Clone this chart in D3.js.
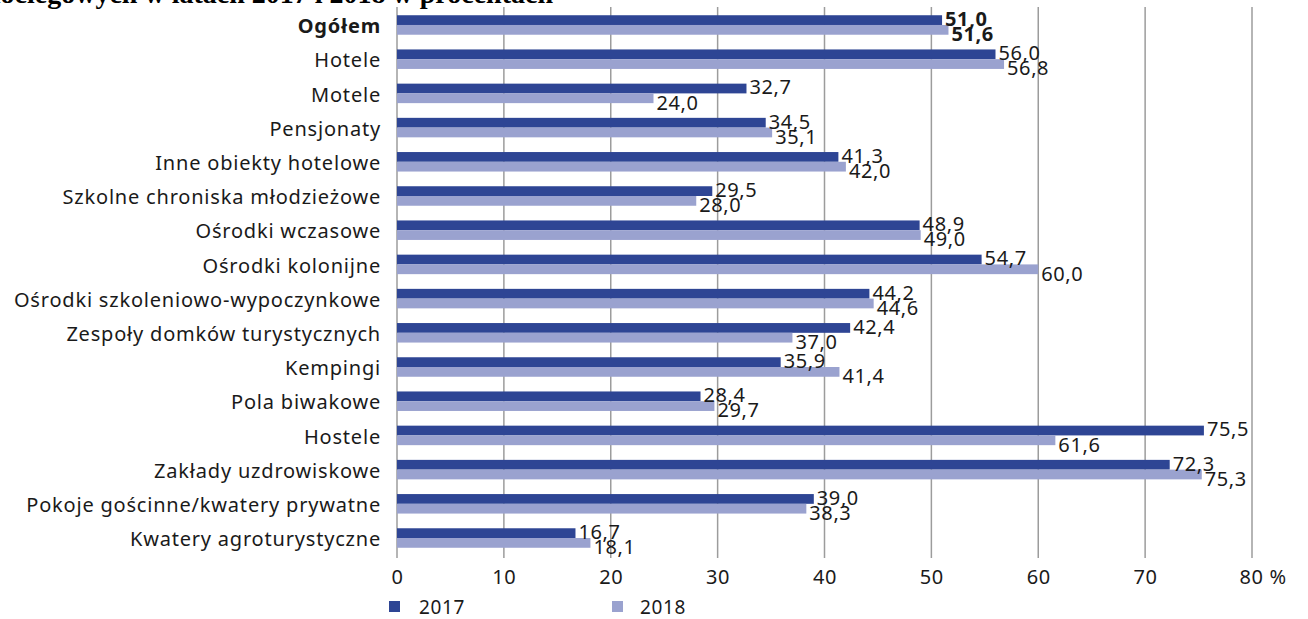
<!DOCTYPE html>
<html>
<head>
<meta charset="utf-8">
<script src="https://cdn.jsdelivr.net/npm/d3@7"></script>
<style>
  html, body { margin: 0; padding: 0; background: #fff; }
  svg { display: block; }
</style>
</head>
<body>
<svg id="chart" width="1308" height="619"></svg>
<script>
// Occupancy of bed places by type of accommodation, 2017 vs 2018 (%)
const categories = [
  "Ogółem", "Hotele", "Motele", "Pensjonaty", "Inne obiekty hotelowe",
  "Szkolne chroniska młodzieżowe", "Ośrodki wczasowe", "Ośrodki kolonijne",
  "Ośrodki szkoleniowo-wypoczynkowe", "Zespoły domków turystycznych",
  "Kempingi", "Pola biwakowe", "Hostele", "Zakłady uzdrowiskowe",
  "Pokoje gościnne/kwatery prywatne", "Kwatery agroturystyczne"
];
const values2017 = [51.0, 56.0, 32.7, 34.5, 41.3, 29.5, 48.9, 54.7, 44.2, 42.4, 35.9, 28.4, 75.5, 72.3, 39.0, 16.7];
const values2018 = [51.6, 56.8, 24.0, 35.1, 42.0, 28.0, 49.0, 60.0, 44.6, 37.0, 41.4, 29.7, 61.6, 75.3, 38.3, 18.1];
const seriesNames = ["2017", "2018"];
const tickValues = [0, 10, 20, 30, 40, 50, 60, 70, 80];
const titlePrefix = "Stopień wykorzystania miejsc ";
const titleText = titlePrefix + "noclegowych w latach 2017 i 2018 w procentach";

const colors = { "2017": "#2e4594", "2018": "#9aa2cf" };
const labelFont = "'Noto Sans', 'DejaVu Sans', sans-serif";
const serifFont = "'Liberation Serif', 'DejaVu Serif', serif";

const svg = d3.select("#chart");

const x = d3.scaleLinear().domain([0, 80]).range([397, 1252]);
const y = d3.scaleBand().domain(categories).range([6, 557])
  .paddingInner(0.43).paddingOuter(0.27);
const sub = d3.scaleBand().domain(seriesNames).range([0, y.bandwidth()]);

const fmt = v => d3.format(".1f")(v).replace(".", ",");

// Title line (runs off the top edge of the page)
const pre = svg.append("text")
  .attr("font-family", serifFont).attr("font-weight", "bold").attr("font-size", 28)
  .text(titlePrefix);
const preW = pre.node().getComputedTextLength();
pre.remove();
svg.append("text")
  .attr("x", -preW - 22)
  .attr("y", 3)
  .attr("font-family", serifFont)
  .attr("font-weight", "bold")
  .attr("font-size", 28)
  .attr("fill", "#000")
  .text(titleText);

// Vertical gridlines
svg.append("g")
  .selectAll("line")
  .data(tickValues)
  .join("line")
  .attr("x1", d => x(d)).attr("x2", d => x(d))
  .attr("y1", 7).attr("y2", 558)
  .attr("stroke", "#9c9c9c")
  .attr("stroke-width", 1.5);

// Bars
const rows = categories.map((c, i) => ({ cat: c, vals: [values2017[i], values2018[i]], bold: i === 0 }));

const group = svg.append("g").selectAll("g")
  .data(rows)
  .join("g")
  .attr("transform", d => `translate(0,${y(d.cat)})`);

group.selectAll("rect")
  .data(d => d.vals.map((v, j) => ({ key: seriesNames[j], v })))
  .join("rect")
  .attr("x", x(0))
  .attr("y", d => sub(d.key))
  .attr("width", d => x(d.v) - x(0))
  .attr("height", sub.bandwidth())
  .attr("fill", d => colors[d.key]);

// Value labels
group.each(function (d) {
  const g = d3.select(this);
  d.vals.forEach((v, j) => {
    const key = seriesNames[j];
    const base = sub(key) + sub.bandwidth();
    g.append("text")
      .attr("x", x(v) + 3)
      .attr("y", j === 0 ? base + 1 : base + 6.5)
      .attr("font-family", labelFont)
      .attr("font-size", 20)
      .attr("letter-spacing", 0.6)
      .attr("font-weight", d.bold ? "bold" : "normal")
      .attr("fill", "#1a1a1a")
      .text(fmt(v));
  });
});

// Category labels
svg.append("g").selectAll("text")
  .data(rows)
  .join("text")
  .attr("x", 381)
  .attr("y", d => y(d.cat) + y.bandwidth() - 1.5)
  .attr("text-anchor", "end")
  .attr("font-family", labelFont)
  .attr("font-size", 20)
  .attr("letter-spacing", 0.8)
  .attr("font-weight", d => d.bold ? "bold" : "normal")
  .attr("fill", "#1a1a1a")
  .text(d => d.cat);

// Bottom axis labels
const axis = d3.axisBottom(x)
  .tickValues(tickValues)
  .tickSize(0)
  .tickPadding(0)
  .tickFormat(d => d === 80 ? "80 %" : String(d));
const axisG = svg.append("g").attr("transform", "translate(0,570)").call(axis);
axisG.select(".domain").remove();
axisG.selectAll("text")
  .attr("font-family", labelFont)
  .attr("font-size", 20)
  .attr("letter-spacing", 0.6)
  .attr("fill", "#1a1a1a")
  .attr("dy", "0.71em");
axisG.selectAll(".tick").filter(d => d === 80).select("text")
  .attr("text-anchor", "start").attr("dx", -13);

// Legend
const legendX = d3.scaleOrdinal().domain(seriesNames).range([389, 612]);
const legend = svg.append("g").selectAll("g")
  .data(seriesNames)
  .join("g")
  .attr("transform", d => `translate(${legendX(d)},601)`);
legend.append("rect")
  .attr("width", 11).attr("height", 11)
  .attr("fill", d => colors[d]);
legend.append("text")
  .attr("x", d => d === "2017" ? 30 : 28)
  .attr("y", 12.5)
  .attr("font-family", labelFont)
  .attr("font-size", 19)
  .attr("letter-spacing", 0.6)
  .attr("fill", "#1a1a1a")
  .text(d => d);
</script>
</body>
</html>
